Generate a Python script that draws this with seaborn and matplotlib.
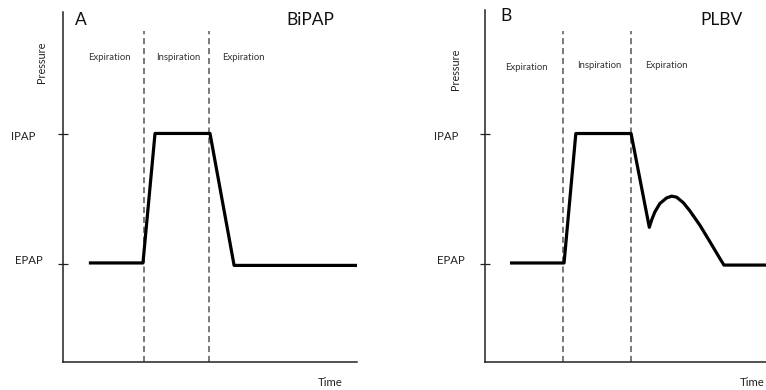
import matplotlib
matplotlib.use("Agg")
import matplotlib.pyplot as plt
import seaborn as sns
import pandas as pd

# ---------------- data ----------------
# Panel A (BiPAP): time (arbitrary units) and pressure (arbitrary units)
time_a = [8.8, 27.2, 31.3, 50.0, 58.2, 100.0]
pressure_a = [28.3, 28.3, 65.3, 65.3, 27.6, 27.6]
phase_bounds_a = [27.6, 49.8]

# Panel B (PLBV)
time_b = [8.6, 27.0, 31.0, 49.8, 56.0, 56.8, 57.9, 59.6, 61.9, 63.6, 65.3,
          67.6, 69.8, 73.2, 76.6, 80.0, 81.4, 95.7]
pressure_b = [28.3, 28.3, 65.3, 65.3, 38.5, 40.6, 42.9, 45.3, 46.9, 47.4, 47.1,
              45.5, 43.2, 39.1, 34.4, 29.6, 27.7, 27.7]
phase_bounds_b = [26.6, 49.8]

level_ticks = [28.0, 65.1]
level_labels = ["EPAP", "IPAP"]
phase_labels = ["Expiration", "Inspiration", "Expiration"]
panel_letters = ["A", "B"]
panel_titles = ["BiPAP", "PLBV"]
x_label = "Time"
y_label = "Pressure"

# ---------------- style ----------------
sns.set_style("white")
plt.rcParams["font.family"] = ["Lato", "DejaVu Sans"]

W, H = 766, 390
fig = plt.figure(figsize=(W / 100, H / 100), dpi=100)


def fpos(x, y):
    return x / W, 1 - y / H


def make_axes(left, right, top, bottom):
    return fig.add_axes([left / W, 1 - bottom / H, (right - left) / W, (bottom - top) / H])


ax_a = make_axes(63, 357, 12, 362)
ax_b = make_axes(484.7, 766, 10, 362)

panels = [
    dict(ax=ax_a, t=time_a, p=pressure_a, bounds=phase_bounds_a, xlim=(0, 100), ylim=(0, 100),
         letter=(81, 20), title=(310, 20), ylab=(42, 62), lvl=[(29, 260), (23, 136)],
         time=(330, 382), phases=[(109, 58), (178, 58), (243, 57)]),
    dict(ax=ax_b, t=time_b, p=pressure_b, bounds=phase_bounds_b, xlim=(0, 95.7), ylim=(0, 100.6),
         letter=(506, 16), title=(722, 20), ylab=(456, 69), lvl=[(451, 260), (446, 136)],
         time=(752, 382), phases=[(526, 67), (599, 66), (666, 66)]),
]

for i, pn in enumerate(panels):
    ax = pn["ax"]
    df = pd.DataFrame({"time": pn["t"], "pressure": pn["p"]})
    sns.lineplot(data=df, x="time", y="pressure", sort=False, ax=ax,
                 color="black", linewidth=2.3, solid_joinstyle="round",
                 solid_capstyle="butt", zorder=3)
    for b in pn["bounds"]:
        ax.plot([b, b], [0, 94.6], color="#555555", linestyle=(0, (4, 2.5)),
                linewidth=1.1, zorder=2)
    ax.set_xlim(*pn["xlim"])
    ax.set_ylim(*pn["ylim"])
    ax.set_xlabel("")
    ax.set_ylabel("")
    ax.set_xticks([])
    ax.set_yticks(level_ticks)
    ax.set_yticklabels([])
    ax.tick_params(axis="y", direction="inout", length=7.5, width=0.9, color="#222222", left=True)
    for s in ["top", "right"]:
        ax.spines[s].set_visible(False)
    for s in ["left", "bottom"]:
        ax.spines[s].set_color("#222222")
        ax.spines[s].set_linewidth(1.1)
    ax.patch.set_alpha(0)

    fig.text(*fpos(*pn["letter"]), panel_letters[i], fontsize=12.5, ha="center", va="center",
             color="#111111")
    fig.text(*fpos(*pn["title"]), panel_titles[i], fontsize=12.5, ha="center", va="center",
             color="#111111")
    fig.text(*fpos(*pn["ylab"]), y_label, fontsize=7.8, rotation=90, ha="center", va="center",
             color="#222222")
    for (x, y), lab in zip(pn["lvl"], level_labels):
        fig.text(*fpos(x, y), lab, fontsize=8.2, ha="center", va="center", color="#222222")
    fig.text(*fpos(*pn["time"]), x_label, fontsize=8.2, ha="center", va="center", color="#222222")
    for (x, y), lab in zip(pn["phases"], phase_labels):
        fig.text(*fpos(x, y), lab, fontsize=6.8, ha="center", va="center", color="#333333")

fig.savefig("out.png", dpi=100, facecolor="white")
